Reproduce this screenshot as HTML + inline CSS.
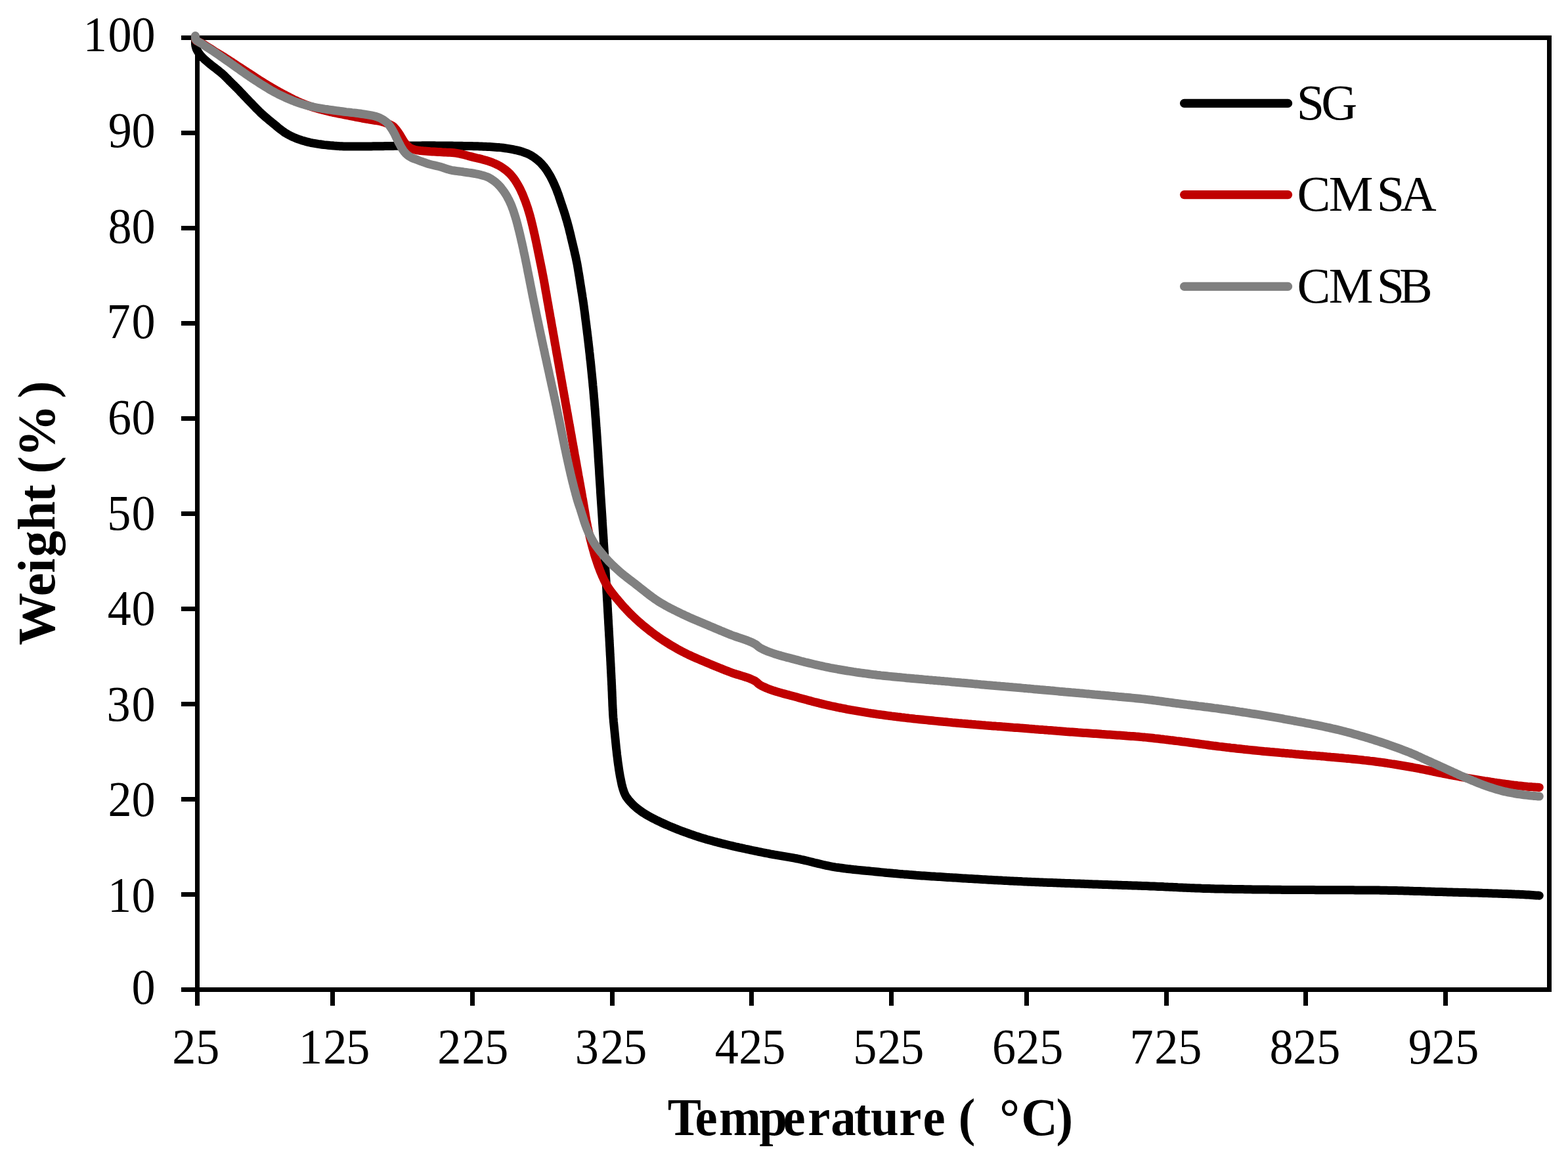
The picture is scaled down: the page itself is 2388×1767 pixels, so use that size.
<!DOCTYPE html>
<html lang="en"><head><meta charset="utf-8"><title>TGA curves</title>
<style>html,body{margin:0;padding:0;background:#fff}body{width:2388px;height:1767px;overflow:hidden}svg{display:block}text{font-family:"Liberation Serif","Times New Roman",serif;fill:#000;white-space:pre}</style></head><body>
<svg xmlns="http://www.w3.org/2000/svg" width="2388" height="1767" viewBox="0 0 2388 1767">
<rect width="2388" height="1767" fill="#fff"/>
<g fill="#000" shape-rendering="crispEdges">
<rect x="297" y="54" width="7" height="1478"/>
<rect x="2356" y="54" width="7" height="1457"/>
<rect x="276" y="54" width="2087" height="7"/>
<rect x="276" y="1504" width="2087" height="7"/>
<rect x="276" y="1359" width="21" height="7"/>
<rect x="276" y="1214" width="21" height="7"/>
<rect x="276" y="1069" width="21" height="7"/>
<rect x="276" y="924" width="21" height="7"/>
<rect x="276" y="779" width="21" height="7"/>
<rect x="276" y="634" width="21" height="7"/>
<rect x="276" y="489" width="21" height="7"/>
<rect x="276" y="344" width="21" height="7"/>
<rect x="276" y="199" width="21" height="7"/>
<rect x="503" y="1504" width="7" height="28"/>
<rect x="716" y="1504" width="7" height="28"/>
<rect x="929" y="1504" width="7" height="28"/>
<rect x="1141" y="1504" width="7" height="28"/>
<rect x="1354" y="1504" width="7" height="28"/>
<rect x="1560" y="1504" width="7" height="28"/>
<rect x="1773" y="1504" width="7" height="28"/>
<rect x="1985" y="1504" width="7" height="28"/>
<rect x="2198" y="1504" width="7" height="28"/>
</g>
<path d="M297.5 58.0 L297.5 61.1 L297.5 64.1 L297.5 66.9 L297.8 69.5 L298.4 72.0 L299.2 74.5 L300.4 76.9 L301.8 79.3 L303.4 81.6 L305.2 83.9 L307.2 86.2 L309.3 88.4 L311.6 90.6 L314.0 92.7 L316.6 94.9 L319.1 97.0 L321.8 99.1 L324.4 101.2 L327.1 103.2 L329.8 105.3 L332.4 107.4 L335.0 109.5 L337.5 111.6 L339.9 113.7 L342.2 115.8 L344.4 118.0 L346.5 120.1 L348.6 122.3 L350.7 124.4 L352.8 126.5 L355.0 128.6 L357.1 130.7 L359.2 132.8 L361.4 134.9 L363.5 137.1 L365.5 139.2 L367.6 141.4 L369.7 143.6 L371.7 145.8 L373.8 148.0 L375.9 150.1 L377.9 152.3 L380.0 154.5 L382.1 156.6 L384.2 158.8 L386.3 161.0 L388.4 163.1 L390.4 165.3 L392.6 167.4 L394.7 169.5 L396.8 171.6 L399.0 173.6 L401.3 175.6 L403.5 177.6 L405.8 179.6 L408.1 181.5 L410.4 183.4 L412.7 185.3 L415.0 187.2 L417.4 189.1 L419.7 191.0 L422.0 193.0 L424.3 194.9 L426.7 196.8 L429.1 198.6 L431.5 200.4 L433.9 202.1 L436.5 203.6 L439.1 205.1 L441.7 206.5 L444.4 207.8 L447.2 209.1 L450.0 210.3 L452.7 211.4 L455.5 212.4 L458.4 213.3 L461.3 214.3 L464.1 215.1 L467.0 215.9 L470.0 216.6 L472.9 217.3 L475.8 217.9 L478.8 218.4 L481.7 218.9 L484.7 219.4 L487.7 219.8 L490.6 220.2 L493.6 220.6 L496.6 220.9 L499.6 221.2 L502.6 221.5 L505.6 221.7 L508.6 222.0 L511.6 222.2 L514.5 222.4 L517.5 222.7 L520.5 222.8 L523.5 223.0 L526.5 223.0 L529.5 223.0 L532.5 223.0 L535.5 223.0 L538.5 223.0 L541.5 223.0 L544.5 223.0 L547.5 223.0 L550.5 223.0 L553.5 223.0 L556.5 223.0 L559.5 222.9 L562.5 222.9 L565.5 222.9 L568.5 222.8 L571.5 222.8 L574.5 222.8 L577.5 222.7 L580.5 222.7 L583.5 222.7 L586.5 222.6 L589.5 222.6 L592.5 222.5 L595.5 222.5 L598.5 222.4 L601.5 222.3 L604.5 222.3 L607.5 222.2 L610.5 222.2 L613.5 222.1 L616.5 222.1 L619.5 222.1 L622.5 222.0 L625.5 222.0 L628.5 222.0 L631.5 221.9 L634.5 221.9 L637.5 221.9 L640.5 221.9 L643.5 221.8 L646.5 221.8 L649.5 221.8 L652.5 221.8 L655.5 221.8 L658.5 221.8 L661.5 221.8 L664.5 221.9 L667.5 221.9 L670.5 221.9 L673.5 221.9 L676.5 222.0 L679.5 222.0 L682.5 222.1 L685.5 222.1 L688.5 222.1 L691.5 222.2 L694.5 222.2 L697.5 222.2 L700.5 222.3 L703.5 222.3 L706.5 222.4 L709.5 222.4 L712.5 222.5 L715.5 222.5 L718.5 222.6 L721.5 222.7 L724.5 222.7 L727.5 222.8 L730.5 222.9 L733.5 223.0 L736.5 223.2 L739.5 223.3 L742.5 223.5 L745.5 223.6 L748.5 223.8 L751.5 224.0 L754.5 224.2 L757.5 224.4 L760.5 224.6 L763.4 224.9 L766.4 225.3 L769.4 225.7 L772.4 226.1 L775.4 226.6 L778.3 227.1 L781.3 227.7 L784.2 228.3 L787.1 228.9 L790.0 229.6 L793.0 230.4 L795.9 231.3 L798.7 232.3 L801.5 233.3 L804.3 234.5 L806.9 235.8 L809.5 237.2 L812.1 238.9 L814.6 240.6 L817.0 242.5 L819.4 244.4 L821.6 246.4 L823.7 248.4 L825.7 250.6 L827.7 252.9 L829.6 255.2 L831.4 257.7 L833.1 260.2 L834.7 262.7 L836.3 265.3 L837.8 267.8 L839.2 270.5 L840.6 273.2 L841.9 275.9 L843.2 278.6 L844.4 281.4 L845.6 284.1 L846.8 286.9 L847.9 289.7 L848.9 292.5 L850.0 295.3 L851.0 298.1 L851.9 301.0 L852.9 303.8 L853.8 306.7 L854.8 309.5 L855.7 312.3 L856.7 315.2 L857.6 318.0 L858.6 320.9 L859.5 323.8 L860.4 326.6 L861.3 329.5 L862.1 332.4 L863.0 335.2 L863.8 338.1 L864.6 341.0 L865.4 343.9 L866.2 346.8 L866.9 349.7 L867.6 352.6 L868.3 355.5 L869.1 358.4 L869.7 361.4 L870.4 364.3 L871.1 367.2 L871.8 370.1 L872.5 373.0 L873.2 376.0 L873.9 378.9 L874.6 381.8 L875.2 384.7 L875.9 387.7 L876.6 390.6 L877.2 393.5 L877.8 396.5 L878.4 399.4 L879.0 402.3 L879.5 405.3 L880.0 408.2 L880.5 411.2 L881.0 414.2 L881.5 417.1 L882.0 420.1 L882.5 423.0 L882.9 426.0 L883.4 429.0 L883.8 431.9 L884.3 434.9 L884.8 437.9 L885.3 440.8 L885.7 443.8 L886.2 446.8 L886.7 449.7 L887.1 452.7 L887.6 455.7 L888.0 458.6 L888.5 461.6 L888.9 464.6 L889.3 467.5 L889.7 470.5 L890.1 473.5 L890.5 476.4 L890.9 479.4 L891.2 482.4 L891.6 485.4 L892.0 488.3 L892.4 491.3 L892.8 494.3 L893.1 497.3 L893.5 500.3 L893.9 503.2 L894.2 506.2 L894.6 509.2 L895.0 512.2 L895.3 515.1 L895.7 518.1 L896.0 521.1 L896.4 524.1 L896.7 527.1 L897.1 530.1 L897.4 533.0 L897.7 536.0 L898.1 539.0 L898.4 542.0 L898.7 545.0 L899.0 548.0 L899.4 550.9 L899.7 553.9 L900.0 556.9 L900.3 559.9 L900.6 562.9 L900.9 565.9 L901.2 568.8 L901.5 571.8 L901.8 574.8 L902.1 577.8 L902.4 580.8 L902.7 583.8 L902.9 586.8 L903.2 589.7 L903.5 592.7 L903.8 595.7 L904.0 598.7 L904.3 601.7 L904.5 604.7 L904.8 607.7 L905.1 610.7 L905.3 613.6 L905.5 616.6 L905.8 619.6 L906.0 622.6 L906.3 625.6 L906.5 628.6 L906.7 631.6 L906.9 634.6 L907.2 637.6 L907.4 640.6 L907.6 643.5 L907.8 646.5 L908.0 649.5 L908.2 652.5 L908.5 655.5 L908.7 658.5 L908.9 661.5 L909.1 664.5 L909.3 667.5 L909.5 670.5 L909.7 673.5 L909.9 676.5 L910.1 679.5 L910.3 682.5 L910.5 685.5 L910.7 688.4 L910.9 691.4 L911.0 694.4 L911.2 697.4 L911.4 700.4 L911.6 703.4 L911.8 706.4 L912.0 709.4 L912.2 712.4 L912.4 715.4 L912.6 718.4 L912.7 721.4 L912.9 724.4 L913.1 727.4 L913.3 730.4 L913.5 733.4 L913.7 736.4 L913.9 739.4 L914.1 742.4 L914.3 745.3 L914.4 748.3 L914.6 751.3 L914.8 754.3 L915.0 757.3 L915.2 760.3 L915.4 763.3 L915.6 766.3 L915.8 769.3 L916.0 772.3 L916.2 775.3 L916.4 778.3 L916.6 781.3 L916.8 784.3 L917.0 787.3 L917.2 790.3 L917.3 793.2 L917.5 796.2 L917.7 799.2 L917.9 802.2 L918.1 805.2 L918.3 808.2 L918.5 811.2 L918.7 814.2 L918.9 817.2 L919.1 820.2 L919.2 823.2 L919.4 826.2 L919.6 829.2 L919.8 832.2 L920.0 835.2 L920.2 838.2 L920.4 841.2 L920.5 844.1 L920.7 847.1 L920.9 850.1 L921.1 853.1 L921.3 856.1 L921.5 859.1 L921.6 862.1 L921.8 865.1 L922.0 868.1 L922.2 871.1 L922.4 874.1 L922.5 877.1 L922.7 880.1 L922.9 883.1 L923.1 886.1 L923.2 889.1 L923.4 892.1 L923.6 895.1 L923.8 898.1 L923.9 901.0 L924.1 904.0 L924.3 907.0 L924.4 910.0 L924.6 913.0 L924.8 916.0 L925.0 919.0 L925.1 922.0 L925.3 925.0 L925.5 928.0 L925.6 931.0 L925.8 934.0 L926.0 937.0 L926.1 940.0 L926.3 943.0 L926.5 946.0 L926.6 949.0 L926.8 952.0 L927.0 955.0 L927.1 958.0 L927.3 961.0 L927.5 963.9 L927.6 966.9 L927.8 969.9 L928.0 972.9 L928.1 975.9 L928.3 978.9 L928.4 981.9 L928.6 984.9 L928.8 987.9 L928.9 990.9 L929.1 993.9 L929.2 996.9 L929.4 999.9 L929.6 1002.9 L929.7 1005.9 L929.9 1008.9 L930.0 1011.9 L930.2 1014.9 L930.3 1017.9 L930.5 1020.9 L930.6 1023.9 L930.8 1026.9 L930.9 1029.9 L931.1 1032.9 L931.2 1035.9 L931.4 1038.8 L931.5 1041.8 L931.7 1044.8 L931.8 1047.8 L931.9 1050.8 L932.1 1053.8 L932.2 1056.8 L932.3 1059.8 L932.4 1062.8 L932.6 1065.8 L932.7 1068.8 L932.8 1071.8 L932.9 1074.8 L933.1 1077.8 L933.2 1080.8 L933.4 1083.8 L933.5 1086.8 L933.7 1089.8 L933.9 1092.8 L934.2 1095.8 L934.4 1098.8 L934.7 1101.7 L935.0 1104.7 L935.3 1107.7 L935.6 1110.7 L935.9 1113.7 L936.2 1116.7 L936.5 1119.7 L936.8 1122.6 L937.1 1125.6 L937.4 1128.6 L937.7 1131.6 L938.0 1134.6 L938.3 1137.6 L938.6 1140.6 L939.0 1143.5 L939.3 1146.5 L939.6 1149.5 L940.0 1152.5 L940.4 1155.5 L940.7 1158.4 L941.1 1161.4 L941.5 1164.4 L942.0 1167.4 L942.4 1170.3 L942.8 1173.3 L943.3 1176.3 L943.8 1179.2 L944.3 1182.2 L944.9 1185.1 L945.5 1188.1 L946.1 1191.0 L946.7 1193.9 L947.4 1196.9 L948.2 1199.8 L949.1 1202.8 L950.0 1205.6 L951.1 1208.4 L952.3 1211.0 L953.7 1213.6 L955.5 1216.0 L957.3 1218.5 L959.3 1220.8 L961.4 1223.0 L963.4 1225.2 L965.6 1227.2 L967.8 1229.2 L970.1 1231.2 L972.5 1233.0 L975.0 1234.9 L977.4 1236.6 L979.9 1238.3 L982.4 1239.9 L984.9 1241.4 L987.5 1242.9 L990.2 1244.4 L992.8 1245.8 L995.5 1247.2 L998.2 1248.5 L1000.9 1249.9 L1003.6 1251.2 L1006.3 1252.5 L1009.0 1253.7 L1011.8 1255.0 L1014.5 1256.2 L1017.3 1257.4 L1020.0 1258.6 L1022.8 1259.8 L1025.6 1260.9 L1028.3 1262.0 L1031.1 1263.1 L1033.9 1264.2 L1036.7 1265.3 L1039.5 1266.3 L1042.3 1267.4 L1045.2 1268.4 L1048.0 1269.4 L1050.8 1270.5 L1053.7 1271.4 L1056.5 1272.4 L1059.3 1273.4 L1062.2 1274.3 L1065.1 1275.2 L1067.9 1276.1 L1070.8 1277.0 L1073.6 1277.8 L1076.5 1278.7 L1079.4 1279.5 L1082.3 1280.3 L1085.2 1281.1 L1088.1 1281.9 L1091.0 1282.6 L1093.9 1283.4 L1096.8 1284.1 L1099.7 1284.9 L1102.6 1285.6 L1105.5 1286.3 L1108.5 1287.0 L1111.4 1287.7 L1114.3 1288.4 L1117.2 1289.1 L1120.1 1289.8 L1123.1 1290.4 L1126.0 1291.1 L1128.9 1291.7 L1131.9 1292.3 L1134.8 1293.0 L1137.7 1293.6 L1140.7 1294.2 L1143.6 1294.9 L1146.5 1295.5 L1149.5 1296.1 L1152.4 1296.7 L1155.3 1297.3 L1158.3 1297.9 L1161.2 1298.5 L1164.2 1299.1 L1167.1 1299.7 L1170.1 1300.2 L1173.0 1300.8 L1176.0 1301.3 L1178.9 1301.9 L1181.9 1302.4 L1184.8 1302.9 L1187.8 1303.4 L1190.7 1303.9 L1193.7 1304.4 L1196.7 1304.9 L1199.6 1305.4 L1202.6 1305.9 L1205.5 1306.4 L1208.5 1306.9 L1211.4 1307.5 L1214.4 1308.0 L1217.3 1308.6 L1220.2 1309.3 L1223.2 1309.9 L1226.1 1310.6 L1229.0 1311.3 L1232.0 1312.0 L1234.9 1312.7 L1237.8 1313.4 L1240.7 1314.2 L1243.6 1314.9 L1246.6 1315.6 L1249.5 1316.3 L1252.4 1317.0 L1255.3 1317.7 L1258.2 1318.3 L1261.2 1318.9 L1264.1 1319.5 L1267.1 1320.1 L1270.0 1320.6 L1272.9 1321.1 L1275.9 1321.5 L1278.9 1321.9 L1281.8 1322.3 L1284.8 1322.7 L1287.8 1323.1 L1290.8 1323.5 L1293.7 1323.8 L1296.7 1324.1 L1299.7 1324.5 L1302.7 1324.8 L1305.7 1325.1 L1308.7 1325.4 L1311.7 1325.7 L1314.6 1326.0 L1317.6 1326.3 L1320.6 1326.6 L1323.6 1326.8 L1326.6 1327.1 L1329.6 1327.4 L1332.6 1327.7 L1335.6 1328.0 L1338.5 1328.3 L1341.5 1328.6 L1344.5 1328.9 L1347.5 1329.2 L1350.5 1329.5 L1353.5 1329.7 L1356.5 1330.0 L1359.5 1330.3 L1362.4 1330.6 L1365.4 1330.8 L1368.4 1331.1 L1371.4 1331.4 L1374.4 1331.6 L1377.4 1331.9 L1380.4 1332.1 L1383.4 1332.3 L1386.4 1332.6 L1389.3 1332.8 L1392.3 1333.0 L1395.3 1333.3 L1398.3 1333.5 L1401.3 1333.7 L1404.3 1333.9 L1407.3 1334.1 L1410.3 1334.3 L1413.3 1334.5 L1416.3 1334.7 L1419.3 1334.9 L1422.3 1335.1 L1425.3 1335.3 L1428.3 1335.4 L1431.3 1335.6 L1434.2 1335.8 L1437.2 1336.0 L1440.2 1336.2 L1443.2 1336.4 L1446.2 1336.6 L1449.2 1336.7 L1452.2 1336.9 L1455.2 1337.1 L1458.2 1337.3 L1461.2 1337.5 L1464.2 1337.7 L1467.2 1337.9 L1470.2 1338.0 L1473.2 1338.2 L1476.2 1338.4 L1479.2 1338.6 L1482.2 1338.8 L1485.2 1339.0 L1488.1 1339.1 L1491.1 1339.3 L1494.1 1339.5 L1497.1 1339.7 L1500.1 1339.8 L1503.1 1340.0 L1506.1 1340.2 L1509.1 1340.3 L1512.1 1340.5 L1515.1 1340.7 L1518.1 1340.8 L1521.1 1341.0 L1524.1 1341.1 L1527.1 1341.3 L1530.1 1341.4 L1533.1 1341.6 L1536.1 1341.7 L1539.1 1341.9 L1542.1 1342.0 L1545.1 1342.2 L1548.1 1342.3 L1551.1 1342.5 L1554.1 1342.6 L1557.1 1342.8 L1560.0 1342.9 L1563.0 1343.0 L1566.0 1343.2 L1569.0 1343.3 L1572.0 1343.4 L1575.0 1343.5 L1578.0 1343.7 L1581.0 1343.8 L1584.0 1343.9 L1587.0 1344.0 L1590.0 1344.2 L1593.0 1344.3 L1596.0 1344.4 L1599.0 1344.5 L1602.0 1344.6 L1605.0 1344.7 L1608.0 1344.8 L1611.0 1345.0 L1614.0 1345.1 L1617.0 1345.2 L1620.0 1345.3 L1623.0 1345.4 L1626.0 1345.5 L1629.0 1345.6 L1632.0 1345.7 L1635.0 1345.8 L1638.0 1345.9 L1641.0 1346.0 L1644.0 1346.1 L1647.0 1346.2 L1650.0 1346.3 L1653.0 1346.5 L1656.0 1346.6 L1659.0 1346.7 L1662.0 1346.8 L1665.0 1346.9 L1668.0 1347.0 L1671.0 1347.1 L1674.0 1347.2 L1677.0 1347.3 L1680.0 1347.4 L1683.0 1347.5 L1686.0 1347.6 L1689.0 1347.7 L1692.0 1347.8 L1695.0 1347.9 L1698.0 1348.0 L1701.0 1348.1 L1704.0 1348.2 L1706.9 1348.3 L1709.9 1348.4 L1712.9 1348.5 L1715.9 1348.6 L1718.9 1348.7 L1721.9 1348.8 L1724.9 1348.9 L1727.9 1349.0 L1730.9 1349.1 L1733.9 1349.2 L1736.9 1349.3 L1739.9 1349.4 L1742.9 1349.5 L1745.9 1349.6 L1748.9 1349.7 L1751.9 1349.9 L1754.9 1350.0 L1757.9 1350.1 L1760.9 1350.2 L1763.9 1350.4 L1766.9 1350.5 L1769.9 1350.6 L1772.9 1350.8 L1775.9 1350.9 L1778.9 1351.1 L1781.9 1351.2 L1784.9 1351.3 L1787.9 1351.5 L1790.9 1351.6 L1793.9 1351.8 L1796.9 1351.9 L1799.9 1352.0 L1802.9 1352.2 L1805.9 1352.3 L1808.9 1352.4 L1811.9 1352.6 L1814.9 1352.7 L1817.9 1352.8 L1820.9 1352.9 L1823.9 1353.0 L1826.9 1353.1 L1829.9 1353.3 L1832.9 1353.4 L1835.9 1353.5 L1838.8 1353.6 L1841.8 1353.6 L1844.8 1353.7 L1847.8 1353.8 L1850.8 1353.9 L1853.8 1354.0 L1856.8 1354.0 L1859.8 1354.1 L1862.8 1354.1 L1865.8 1354.2 L1868.8 1354.2 L1871.8 1354.3 L1874.8 1354.3 L1877.8 1354.4 L1880.8 1354.4 L1883.8 1354.5 L1886.8 1354.5 L1889.8 1354.6 L1892.8 1354.6 L1895.8 1354.7 L1898.8 1354.7 L1901.8 1354.8 L1904.8 1354.8 L1907.8 1354.9 L1910.8 1354.9 L1913.8 1354.9 L1916.8 1355.0 L1919.8 1355.0 L1922.8 1355.0 L1925.8 1355.1 L1928.8 1355.1 L1931.8 1355.1 L1934.8 1355.2 L1937.8 1355.2 L1940.8 1355.2 L1943.8 1355.3 L1946.8 1355.3 L1949.8 1355.3 L1952.8 1355.4 L1955.8 1355.4 L1958.8 1355.4 L1961.8 1355.4 L1964.8 1355.4 L1967.8 1355.5 L1970.8 1355.5 L1973.8 1355.5 L1976.8 1355.5 L1979.8 1355.5 L1982.8 1355.6 L1985.8 1355.6 L1988.8 1355.6 L1991.8 1355.6 L1994.8 1355.6 L1997.8 1355.6 L2000.8 1355.6 L2003.8 1355.7 L2006.8 1355.7 L2009.8 1355.7 L2012.8 1355.7 L2015.8 1355.7 L2018.8 1355.7 L2021.8 1355.7 L2024.8 1355.7 L2027.8 1355.7 L2030.8 1355.7 L2033.8 1355.7 L2036.8 1355.8 L2039.8 1355.8 L2042.8 1355.8 L2045.8 1355.8 L2048.8 1355.8 L2051.8 1355.8 L2054.8 1355.8 L2057.8 1355.8 L2060.8 1355.8 L2063.8 1355.9 L2066.8 1355.9 L2069.8 1355.9 L2072.8 1355.9 L2075.8 1355.9 L2078.8 1355.9 L2081.8 1356.0 L2084.8 1356.0 L2087.8 1356.0 L2090.8 1356.0 L2093.8 1356.0 L2096.8 1356.1 L2099.8 1356.1 L2102.8 1356.2 L2105.8 1356.2 L2108.8 1356.3 L2111.8 1356.3 L2114.8 1356.4 L2117.8 1356.4 L2120.8 1356.5 L2123.8 1356.6 L2126.8 1356.6 L2129.8 1356.7 L2132.8 1356.8 L2135.8 1356.8 L2138.8 1356.9 L2141.8 1357.0 L2144.8 1357.1 L2147.8 1357.2 L2150.8 1357.3 L2153.8 1357.4 L2156.8 1357.4 L2159.8 1357.5 L2162.8 1357.6 L2165.8 1357.7 L2168.8 1357.8 L2171.8 1357.9 L2174.8 1358.0 L2177.8 1358.1 L2180.8 1358.2 L2183.8 1358.3 L2186.8 1358.4 L2189.8 1358.5 L2192.8 1358.5 L2195.8 1358.6 L2198.8 1358.7 L2201.8 1358.8 L2204.8 1358.9 L2207.8 1359.0 L2210.8 1359.1 L2213.8 1359.2 L2216.8 1359.2 L2219.8 1359.3 L2222.8 1359.4 L2225.8 1359.5 L2228.8 1359.6 L2231.8 1359.6 L2234.8 1359.7 L2237.8 1359.8 L2240.8 1359.9 L2243.8 1360.0 L2246.8 1360.1 L2249.8 1360.1 L2252.8 1360.2 L2255.8 1360.3 L2258.8 1360.4 L2261.8 1360.5 L2264.8 1360.6 L2267.8 1360.7 L2270.8 1360.8 L2273.8 1360.9 L2276.8 1361.0 L2279.8 1361.1 L2282.8 1361.2 L2285.8 1361.3 L2288.8 1361.4 L2291.8 1361.5 L2294.8 1361.6 L2297.8 1361.7 L2300.8 1361.8 L2303.8 1361.9 L2306.7 1362.1 L2309.7 1362.2 L2312.7 1362.3 L2315.7 1362.5 L2318.7 1362.6 L2321.7 1362.7 L2324.7 1362.9 L2327.7 1363.1 L2330.7 1363.3 L2333.7 1363.5 L2336.7 1363.7 L2339.7 1363.9 L2342.7 1364.1 L2344.3 1364.2" fill="none" stroke="#000000" stroke-width="13" stroke-linecap="round" stroke-linejoin="round"/>
<path d="M297.5 55.5 L297.5 58.7 L297.8 61.0 L299.8 62.6 L303.0 64.0 L306.3 65.4 L309.1 66.9 L311.7 68.5 L314.2 70.1 L316.7 71.7 L319.2 73.3 L321.8 74.9 L324.3 76.5 L326.8 78.1 L329.4 79.7 L332.0 81.3 L334.5 82.8 L337.1 84.4 L339.6 86.0 L342.2 87.5 L344.7 89.1 L347.3 90.8 L349.8 92.4 L352.3 94.0 L354.8 95.7 L357.3 97.3 L359.8 99.0 L362.3 100.6 L364.8 102.2 L367.3 103.9 L369.9 105.5 L372.4 107.1 L374.9 108.8 L377.4 110.4 L379.9 112.0 L382.5 113.7 L385.0 115.3 L387.5 117.0 L390.0 118.6 L392.5 120.3 L395.0 121.9 L397.5 123.5 L400.1 125.1 L402.6 126.7 L405.2 128.3 L407.7 129.8 L410.3 131.3 L412.9 132.9 L415.5 134.4 L418.1 135.9 L420.7 137.4 L423.3 138.8 L425.9 140.3 L428.6 141.7 L431.2 143.1 L433.9 144.5 L436.5 145.9 L439.2 147.3 L441.8 148.7 L444.5 150.1 L447.2 151.5 L449.9 152.8 L452.6 154.0 L455.3 155.3 L458.1 156.5 L460.9 157.6 L463.6 158.7 L466.4 159.8 L469.3 160.9 L472.1 161.9 L474.9 162.8 L477.8 163.7 L480.7 164.6 L483.6 165.4 L486.4 166.2 L489.3 167.0 L492.2 167.8 L495.1 168.5 L498.1 169.2 L501.0 169.9 L503.9 170.6 L506.8 171.3 L509.8 171.9 L512.7 172.5 L515.6 173.1 L518.6 173.7 L521.5 174.2 L524.5 174.8 L527.4 175.4 L530.4 176.0 L533.3 176.6 L536.2 177.1 L539.2 177.7 L542.1 178.3 L545.1 178.9 L548.0 179.4 L551.0 180.0 L553.9 180.5 L556.9 181.0 L559.8 181.5 L562.8 182.1 L565.8 182.6 L568.7 183.0 L571.7 183.5 L574.7 183.9 L577.6 184.5 L580.5 185.1 L583.4 185.9 L586.3 186.8 L589.1 187.8 L591.9 188.9 L594.7 190.2 L597.4 191.6 L599.7 193.3 L601.7 195.4 L603.7 197.7 L605.5 200.2 L607.2 202.7 L608.9 205.2 L610.5 207.8 L612.0 210.5 L613.5 213.1 L615.1 215.6 L616.8 218.0 L618.8 220.2 L621.0 222.5 L623.3 224.5 L625.8 226.0 L628.4 227.1 L631.4 228.0 L634.3 228.7 L637.3 229.1 L640.3 229.5 L643.2 229.8 L646.2 230.1 L649.2 230.3 L652.2 230.5 L655.2 230.8 L658.2 231.0 L661.2 231.1 L664.2 231.3 L667.2 231.5 L670.2 231.6 L673.2 231.8 L676.2 231.9 L679.2 232.1 L682.2 232.2 L685.2 232.3 L688.2 232.5 L691.2 232.7 L694.1 233.1 L697.1 233.6 L700.0 234.2 L702.9 234.8 L705.9 235.5 L708.8 236.3 L711.7 237.1 L714.6 237.9 L717.5 238.6 L720.5 239.4 L723.4 240.1 L726.3 240.8 L729.2 241.4 L732.2 242.1 L735.1 242.9 L738.0 243.7 L740.8 244.5 L743.7 245.4 L746.5 246.4 L749.4 247.4 L752.2 248.6 L755.0 249.8 L757.6 251.0 L760.2 252.4 L762.8 253.9 L765.4 255.6 L767.9 257.3 L770.3 259.2 L772.7 261.1 L774.9 263.1 L777.0 265.2 L778.9 267.3 L780.8 269.6 L782.6 272.0 L784.4 274.5 L786.0 277.1 L787.6 279.7 L789.1 282.3 L790.6 284.9 L792.0 287.6 L793.3 290.3 L794.5 293.0 L795.8 295.8 L796.9 298.5 L798.0 301.3 L799.1 304.1 L800.2 306.9 L801.2 309.7 L802.2 312.6 L803.2 315.4 L804.1 318.3 L805.0 321.2 L805.8 324.0 L806.7 326.9 L807.5 329.8 L808.2 332.7 L809.0 335.6 L809.7 338.5 L810.4 341.4 L811.1 344.3 L811.8 347.3 L812.5 350.2 L813.1 353.1 L813.8 356.0 L814.5 359.0 L815.1 361.9 L815.7 364.8 L816.4 367.8 L817.0 370.7 L817.6 373.6 L818.2 376.6 L818.8 379.5 L819.4 382.5 L820.0 385.4 L820.6 388.3 L821.2 391.3 L821.8 394.2 L822.4 397.2 L823.0 400.1 L823.6 403.0 L824.2 406.0 L824.8 408.9 L825.4 411.9 L825.9 414.8 L826.5 417.8 L827.1 420.7 L827.6 423.6 L828.2 426.6 L828.7 429.5 L829.3 432.5 L829.8 435.4 L830.3 438.4 L830.8 441.4 L831.3 444.3 L831.9 447.3 L832.4 450.2 L832.9 453.2 L833.4 456.1 L833.9 459.1 L834.5 462.0 L835.0 465.0 L835.5 467.9 L836.0 470.9 L836.6 473.9 L837.1 476.8 L837.6 479.8 L838.1 482.7 L838.7 485.7 L839.2 488.6 L839.7 491.6 L840.2 494.5 L840.7 497.5 L841.3 500.4 L841.8 503.4 L842.3 506.3 L842.8 509.3 L843.4 512.3 L843.9 515.2 L844.4 518.2 L844.9 521.1 L845.4 524.1 L846.0 527.0 L846.5 530.0 L847.0 532.9 L847.5 535.9 L848.0 538.8 L848.6 541.8 L849.1 544.8 L849.6 547.7 L850.1 550.7 L850.7 553.6 L851.2 556.6 L851.7 559.5 L852.2 562.5 L852.7 565.4 L853.3 568.4 L853.8 571.3 L854.3 574.3 L854.8 577.3 L855.4 580.2 L855.9 583.2 L856.4 586.1 L856.9 589.1 L857.4 592.0 L858.0 595.0 L858.5 597.9 L859.0 600.9 L859.5 603.8 L860.1 606.8 L860.6 609.7 L861.1 612.7 L861.6 615.7 L862.2 618.6 L862.7 621.6 L863.2 624.5 L863.7 627.5 L864.3 630.4 L864.8 633.4 L865.3 636.3 L865.8 639.3 L866.4 642.2 L866.9 645.2 L867.4 648.1 L868.0 651.1 L868.5 654.0 L869.0 657.0 L869.5 660.0 L870.1 662.9 L870.6 665.9 L871.1 668.8 L871.6 671.8 L872.2 674.7 L872.7 677.7 L873.2 680.6 L873.8 683.6 L874.3 686.5 L874.8 689.5 L875.3 692.4 L875.9 695.4 L876.4 698.3 L876.9 701.3 L877.5 704.3 L878.0 707.2 L878.5 710.2 L879.0 713.1 L879.6 716.1 L880.1 719.0 L880.6 722.0 L881.1 724.9 L881.7 727.9 L882.2 730.8 L882.7 733.8 L883.3 736.7 L883.8 739.7 L884.3 742.6 L884.8 745.6 L885.4 748.6 L885.9 751.5 L886.4 754.5 L886.9 757.4 L887.5 760.4 L888.0 763.3 L888.5 766.3 L889.0 769.2 L889.5 772.2 L890.0 775.2 L890.5 778.1 L891.0 781.1 L891.5 784.0 L892.0 787.0 L892.5 790.0 L893.0 792.9 L893.6 795.9 L894.2 798.8 L894.7 801.7 L895.3 804.7 L896.0 807.6 L896.6 810.5 L897.3 813.5 L897.9 816.4 L898.6 819.3 L899.3 822.2 L900.1 825.1 L900.8 828.1 L901.6 831.0 L902.4 833.9 L903.2 836.7 L904.0 839.6 L904.8 842.5 L905.6 845.4 L906.5 848.3 L907.4 851.1 L908.4 854.0 L909.3 856.8 L910.3 859.7 L911.3 862.5 L912.4 865.3 L913.4 868.1 L914.5 870.9 L915.7 873.7 L916.8 876.4 L918.1 879.2 L919.3 882.0 L920.6 884.7 L922.0 887.3 L923.4 890.0 L924.8 892.5 L926.4 895.1 L928.1 897.5 L929.8 900.0 L931.6 902.4 L933.5 904.8 L935.4 907.1 L937.3 909.5 L939.2 911.8 L941.2 914.1 L943.1 916.4 L945.0 918.6 L947.0 920.9 L949.0 923.2 L951.0 925.4 L953.1 927.6 L955.1 929.8 L957.2 932.0 L959.3 934.2 L961.4 936.3 L963.6 938.4 L965.7 940.4 L967.9 942.5 L970.1 944.5 L972.3 946.5 L974.6 948.5 L976.8 950.4 L979.1 952.4 L981.4 954.3 L983.8 956.2 L986.1 958.1 L988.5 960.0 L990.9 961.8 L993.3 963.6 L995.7 965.4 L998.1 967.2 L1000.5 968.9 L1003.0 970.7 L1005.4 972.4 L1007.9 974.0 L1010.4 975.7 L1012.9 977.3 L1015.5 978.9 L1018.0 980.5 L1020.6 982.1 L1023.2 983.7 L1025.8 985.2 L1028.4 986.7 L1031.0 988.2 L1033.6 989.6 L1036.2 991.1 L1038.9 992.5 L1041.5 993.8 L1044.2 995.2 L1046.9 996.5 L1049.6 997.8 L1052.3 999.0 L1055.1 1000.3 L1057.8 1001.5 L1060.6 1002.7 L1063.3 1003.9 L1066.1 1005.1 L1068.9 1006.2 L1071.6 1007.4 L1074.4 1008.6 L1077.2 1009.7 L1079.9 1010.9 L1082.7 1012.1 L1085.5 1013.2 L1088.2 1014.4 L1091.0 1015.5 L1093.8 1016.6 L1096.6 1017.8 L1099.4 1018.9 L1102.1 1020.0 L1104.9 1021.1 L1107.7 1022.1 L1110.5 1023.2 L1113.3 1024.3 L1116.2 1025.3 L1119.0 1026.3 L1121.9 1027.2 L1124.9 1028.1 L1127.8 1029.0 L1130.7 1029.9 L1133.6 1030.8 L1136.5 1031.7 L1139.3 1032.7 L1142.1 1033.7 L1144.8 1034.9 L1147.5 1036.1 L1150.1 1037.4 L1152.5 1039.2 L1154.7 1041.3 L1157.1 1043.2 L1159.6 1044.6 L1162.2 1045.8 L1164.8 1047.0 L1167.5 1048.2 L1170.2 1049.3 L1173.0 1050.3 L1175.8 1051.3 L1178.7 1052.3 L1181.6 1053.2 L1184.5 1054.1 L1187.4 1054.9 L1190.3 1055.8 L1193.3 1056.6 L1196.3 1057.4 L1199.2 1058.2 L1202.2 1058.9 L1205.1 1059.7 L1208.1 1060.5 L1211.0 1061.3 L1213.9 1062.1 L1216.8 1062.9 L1219.7 1063.7 L1222.6 1064.5 L1225.5 1065.3 L1228.4 1066.1 L1231.3 1066.9 L1234.2 1067.6 L1237.1 1068.4 L1240.0 1069.2 L1242.9 1069.9 L1245.8 1070.6 L1248.7 1071.4 L1251.6 1072.1 L1254.6 1072.8 L1257.5 1073.5 L1260.4 1074.2 L1263.3 1074.8 L1266.3 1075.5 L1269.2 1076.1 L1272.1 1076.7 L1275.0 1077.4 L1278.0 1078.0 L1280.9 1078.5 L1283.9 1079.1 L1286.8 1079.7 L1289.8 1080.3 L1292.7 1080.8 L1295.7 1081.4 L1298.6 1081.9 L1301.6 1082.4 L1304.5 1082.9 L1307.5 1083.4 L1310.4 1083.9 L1313.4 1084.4 L1316.4 1084.9 L1319.3 1085.4 L1322.3 1085.9 L1325.3 1086.3 L1328.2 1086.8 L1331.2 1087.2 L1334.2 1087.7 L1337.1 1088.1 L1340.1 1088.5 L1343.1 1088.9 L1346.0 1089.3 L1349.0 1089.7 L1352.0 1090.1 L1355.0 1090.5 L1357.9 1090.9 L1360.9 1091.2 L1363.9 1091.6 L1366.9 1092.0 L1369.9 1092.3 L1372.8 1092.7 L1375.8 1093.0 L1378.8 1093.4 L1381.8 1093.7 L1384.8 1094.1 L1387.7 1094.4 L1390.7 1094.7 L1393.7 1095.1 L1396.7 1095.4 L1399.7 1095.7 L1402.6 1096.0 L1405.6 1096.3 L1408.6 1096.6 L1411.6 1096.9 L1414.6 1097.2 L1417.6 1097.5 L1420.6 1097.8 L1423.5 1098.1 L1426.5 1098.4 L1429.5 1098.7 L1432.5 1099.0 L1435.5 1099.3 L1438.5 1099.6 L1441.5 1099.8 L1444.4 1100.1 L1447.4 1100.4 L1450.4 1100.7 L1453.4 1100.9 L1456.4 1101.2 L1459.4 1101.5 L1462.4 1101.7 L1465.4 1102.0 L1468.4 1102.2 L1471.3 1102.5 L1474.3 1102.8 L1477.3 1103.0 L1480.3 1103.3 L1483.3 1103.5 L1486.3 1103.8 L1489.3 1104.0 L1492.3 1104.2 L1495.3 1104.5 L1498.3 1104.7 L1501.2 1105.0 L1504.2 1105.2 L1507.2 1105.4 L1510.2 1105.7 L1513.2 1105.9 L1516.2 1106.1 L1519.2 1106.4 L1522.2 1106.6 L1525.2 1106.8 L1528.2 1107.1 L1531.2 1107.3 L1534.1 1107.5 L1537.1 1107.7 L1540.1 1107.9 L1543.1 1108.2 L1546.1 1108.4 L1549.1 1108.6 L1552.1 1108.8 L1555.1 1109.1 L1558.1 1109.3 L1561.1 1109.5 L1564.1 1109.7 L1567.1 1110.0 L1570.0 1110.2 L1573.0 1110.4 L1576.0 1110.7 L1579.0 1110.9 L1582.0 1111.2 L1585.0 1111.4 L1588.0 1111.6 L1591.0 1111.9 L1594.0 1112.1 L1597.0 1112.4 L1599.9 1112.6 L1602.9 1112.8 L1605.9 1113.1 L1608.9 1113.3 L1611.9 1113.6 L1614.9 1113.8 L1617.9 1114.0 L1620.9 1114.2 L1623.9 1114.5 L1626.9 1114.7 L1629.9 1114.9 L1632.9 1115.1 L1635.8 1115.3 L1638.8 1115.5 L1641.8 1115.8 L1644.8 1116.0 L1647.8 1116.2 L1650.8 1116.4 L1653.8 1116.6 L1656.8 1116.8 L1659.8 1117.0 L1662.8 1117.2 L1665.8 1117.4 L1668.8 1117.6 L1671.8 1117.8 L1674.7 1118.0 L1677.7 1118.3 L1680.7 1118.5 L1683.7 1118.7 L1686.7 1118.9 L1689.7 1119.1 L1692.7 1119.3 L1695.7 1119.5 L1698.7 1119.7 L1701.7 1119.9 L1704.7 1120.1 L1707.7 1120.3 L1710.7 1120.5 L1713.7 1120.7 L1716.7 1121.0 L1719.6 1121.2 L1722.6 1121.4 L1725.6 1121.6 L1728.6 1121.8 L1731.6 1122.1 L1734.6 1122.3 L1737.6 1122.6 L1740.6 1122.9 L1743.6 1123.1 L1746.5 1123.4 L1749.5 1123.7 L1752.5 1124.0 L1755.5 1124.3 L1758.5 1124.7 L1761.5 1125.0 L1764.4 1125.3 L1767.4 1125.7 L1770.4 1126.0 L1773.4 1126.4 L1776.4 1126.7 L1779.3 1127.1 L1782.3 1127.5 L1785.3 1127.8 L1788.3 1128.2 L1791.3 1128.6 L1794.2 1128.9 L1797.2 1129.3 L1800.2 1129.7 L1803.2 1130.0 L1806.1 1130.4 L1809.1 1130.8 L1812.1 1131.2 L1815.1 1131.6 L1818.0 1132.0 L1821.0 1132.4 L1824.0 1132.8 L1827.0 1133.2 L1829.9 1133.6 L1832.9 1134.0 L1835.9 1134.4 L1838.8 1134.8 L1841.8 1135.2 L1844.8 1135.6 L1847.8 1136.0 L1850.7 1136.3 L1853.7 1136.7 L1856.7 1137.1 L1859.7 1137.4 L1862.7 1137.8 L1865.6 1138.1 L1868.6 1138.5 L1871.6 1138.8 L1874.6 1139.2 L1877.6 1139.5 L1880.5 1139.8 L1883.5 1140.2 L1886.5 1140.5 L1889.5 1140.8 L1892.5 1141.1 L1895.5 1141.5 L1898.4 1141.8 L1901.4 1142.1 L1904.4 1142.4 L1907.4 1142.7 L1910.4 1143.0 L1913.4 1143.3 L1916.3 1143.6 L1919.3 1143.9 L1922.3 1144.2 L1925.3 1144.5 L1928.3 1144.7 L1931.3 1145.0 L1934.3 1145.3 L1937.3 1145.5 L1940.2 1145.8 L1943.2 1146.1 L1946.2 1146.3 L1949.2 1146.6 L1952.2 1146.9 L1955.2 1147.1 L1958.2 1147.4 L1961.2 1147.6 L1964.2 1147.9 L1967.1 1148.1 L1970.1 1148.4 L1973.1 1148.7 L1976.1 1148.9 L1979.1 1149.2 L1982.1 1149.4 L1985.1 1149.7 L1988.1 1149.9 L1991.1 1150.2 L1994.0 1150.4 L1997.0 1150.7 L2000.0 1150.9 L2003.0 1151.1 L2006.0 1151.4 L2009.0 1151.6 L2012.0 1151.9 L2015.0 1152.1 L2018.0 1152.4 L2021.0 1152.7 L2023.9 1152.9 L2026.9 1153.2 L2029.9 1153.4 L2032.9 1153.7 L2035.9 1154.0 L2038.9 1154.3 L2041.9 1154.5 L2044.9 1154.8 L2047.8 1155.1 L2050.8 1155.4 L2053.8 1155.6 L2056.8 1155.9 L2059.8 1156.2 L2062.8 1156.5 L2065.8 1156.8 L2068.8 1157.1 L2071.7 1157.4 L2074.7 1157.7 L2077.7 1158.1 L2080.7 1158.4 L2083.7 1158.7 L2086.6 1159.1 L2089.6 1159.4 L2092.6 1159.8 L2095.6 1160.2 L2098.5 1160.6 L2101.5 1161.0 L2104.5 1161.4 L2107.5 1161.8 L2110.4 1162.2 L2113.4 1162.7 L2116.4 1163.1 L2119.3 1163.6 L2122.3 1164.0 L2125.3 1164.5 L2128.2 1165.0 L2131.2 1165.5 L2134.1 1166.0 L2137.1 1166.5 L2140.1 1167.0 L2143.0 1167.5 L2146.0 1168.0 L2148.9 1168.5 L2151.9 1169.0 L2154.8 1169.6 L2157.8 1170.1 L2160.7 1170.7 L2163.7 1171.3 L2166.6 1171.9 L2169.5 1172.5 L2172.5 1173.1 L2175.4 1173.7 L2178.4 1174.3 L2181.3 1175.0 L2184.2 1175.6 L2187.2 1176.2 L2190.1 1176.8 L2193.0 1177.4 L2196.0 1178.0 L2198.9 1178.6 L2201.9 1179.1 L2204.8 1179.7 L2207.8 1180.3 L2210.7 1180.8 L2213.7 1181.3 L2216.6 1181.9 L2219.6 1182.4 L2222.5 1183.0 L2225.5 1183.5 L2228.4 1184.0 L2231.4 1184.6 L2234.3 1185.1 L2237.3 1185.6 L2240.2 1186.1 L2243.2 1186.6 L2246.2 1187.1 L2249.1 1187.6 L2252.1 1188.1 L2255.0 1188.6 L2258.0 1189.1 L2261.0 1189.6 L2263.9 1190.0 L2266.9 1190.5 L2269.8 1191.0 L2272.8 1191.4 L2275.8 1191.9 L2278.7 1192.3 L2281.7 1192.8 L2284.7 1193.2 L2287.7 1193.6 L2290.6 1194.0 L2293.6 1194.4 L2296.6 1194.8 L2299.5 1195.2 L2302.5 1195.6 L2305.5 1196.0 L2308.5 1196.3 L2311.5 1196.7 L2314.4 1197.0 L2317.4 1197.3 L2320.4 1197.6 L2323.4 1197.9 L2326.4 1198.2 L2329.4 1198.4 L2332.4 1198.6 L2335.4 1198.9 L2338.3 1199.1 L2341.3 1199.2 L2344.3 1199.4" fill="none" stroke="#c00000" stroke-width="13" stroke-linecap="round" stroke-linejoin="round"/>
<path d="M297.5 54.5 L297.5 57.6 L297.9 60.0 L299.8 62.1 L302.6 63.9 L305.6 65.6 L308.4 67.3 L310.8 69.0 L313.3 70.7 L315.8 72.3 L318.4 73.9 L320.9 75.5 L323.5 77.1 L326.0 78.8 L328.5 80.5 L330.9 82.2 L333.4 83.9 L335.8 85.6 L338.3 87.3 L340.7 89.1 L343.2 90.8 L345.7 92.5 L348.1 94.2 L350.6 96.0 L353.0 97.7 L355.4 99.4 L357.9 101.2 L360.3 102.9 L362.8 104.6 L365.3 106.4 L367.7 108.1 L370.2 109.8 L372.6 111.6 L375.1 113.3 L377.5 115.0 L380.0 116.7 L382.5 118.3 L385.0 120.0 L387.5 121.7 L390.0 123.3 L392.5 124.9 L395.0 126.6 L397.6 128.2 L400.1 129.8 L402.7 131.4 L405.2 132.9 L407.8 134.5 L410.4 136.1 L412.9 137.6 L415.5 139.0 L418.2 140.5 L420.8 141.9 L423.5 143.3 L426.2 144.6 L428.9 145.9 L431.6 147.2 L434.3 148.5 L437.1 149.7 L439.8 150.9 L442.6 152.0 L445.4 153.2 L448.2 154.3 L451.0 155.3 L453.8 156.3 L456.6 157.3 L459.5 158.2 L462.3 159.1 L465.2 160.0 L468.1 160.8 L471.0 161.6 L473.9 162.2 L476.9 162.9 L479.8 163.5 L482.7 164.1 L485.7 164.6 L488.7 165.1 L491.6 165.6 L494.6 166.1 L497.5 166.5 L500.5 167.0 L503.5 167.4 L506.5 167.8 L509.4 168.2 L512.4 168.6 L515.4 169.0 L518.3 169.4 L521.3 169.8 L524.3 170.2 L527.3 170.6 L530.3 170.9 L533.2 171.2 L536.2 171.6 L539.2 171.9 L542.2 172.2 L545.2 172.6 L548.1 173.0 L551.1 173.5 L554.1 173.9 L557.0 174.4 L560.0 174.9 L562.9 175.4 L565.9 175.9 L568.9 176.5 L571.8 177.2 L574.6 178.1 L577.4 179.2 L580.1 180.5 L582.8 181.9 L585.3 183.6 L587.7 185.4 L589.9 187.4 L591.9 189.6 L593.7 192.0 L595.4 194.5 L597.1 197.1 L598.6 199.7 L600.1 202.3 L601.4 204.9 L602.7 207.6 L604.0 210.4 L605.3 213.1 L606.6 215.8 L608.0 218.4 L609.4 221.1 L610.9 223.8 L612.4 226.4 L614.1 229.0 L615.8 231.3 L617.7 233.5 L619.9 235.6 L622.4 237.5 L624.9 239.1 L627.5 240.5 L630.3 241.7 L633.1 242.7 L635.9 243.7 L638.7 244.8 L641.6 245.8 L644.4 246.9 L647.2 247.8 L650.1 248.8 L652.9 249.7 L655.8 250.5 L658.7 251.2 L661.6 251.9 L664.6 252.6 L667.5 253.3 L670.4 254.0 L673.3 254.9 L676.1 255.9 L679.0 256.9 L681.8 257.8 L684.7 258.6 L687.6 259.3 L690.5 259.8 L693.5 260.2 L696.5 260.6 L699.5 261.0 L702.5 261.4 L705.4 261.8 L708.4 262.3 L711.4 262.7 L714.3 263.1 L717.3 263.5 L720.3 264.0 L723.2 264.5 L726.2 265.1 L729.2 265.7 L732.1 266.4 L735.0 267.2 L737.9 268.0 L740.7 269.0 L743.4 270.1 L746.1 271.5 L748.7 273.1 L751.2 274.8 L753.6 276.6 L755.9 278.5 L758.1 280.5 L760.2 282.7 L762.2 284.9 L764.1 287.3 L765.9 289.7 L767.7 292.1 L769.3 294.6 L770.9 297.1 L772.5 299.7 L773.9 302.4 L775.3 305.1 L776.6 307.8 L777.8 310.5 L779.0 313.3 L780.0 316.1 L781.1 318.9 L782.1 321.7 L783.0 324.6 L783.9 327.5 L784.8 330.3 L785.7 333.2 L786.5 336.1 L787.3 339.0 L788.1 341.9 L788.8 344.8 L789.5 347.7 L790.3 350.6 L791.0 353.5 L791.7 356.4 L792.4 359.4 L793.1 362.3 L793.7 365.2 L794.4 368.1 L795.1 371.0 L795.7 374.0 L796.4 376.9 L797.0 379.8 L797.6 382.8 L798.2 385.7 L798.9 388.6 L799.5 391.6 L800.1 394.5 L800.7 397.5 L801.3 400.4 L801.9 403.3 L802.5 406.3 L803.1 409.2 L803.6 412.2 L804.2 415.1 L804.8 418.1 L805.4 421.0 L806.0 423.9 L806.6 426.9 L807.1 429.8 L807.7 432.8 L808.3 435.7 L808.9 438.7 L809.5 441.6 L810.0 444.5 L810.6 447.5 L811.2 450.4 L811.8 453.4 L812.4 456.3 L813.0 459.3 L813.6 462.2 L814.2 465.1 L814.8 468.1 L815.4 471.0 L816.0 473.9 L816.6 476.9 L817.2 479.8 L817.8 482.8 L818.4 485.7 L819.0 488.6 L819.7 491.6 L820.3 494.5 L820.9 497.4 L821.5 500.4 L822.1 503.3 L822.8 506.2 L823.4 509.2 L824.0 512.1 L824.7 515.0 L825.3 518.0 L825.9 520.9 L826.5 523.8 L827.2 526.8 L827.8 529.7 L828.4 532.6 L829.1 535.6 L829.7 538.5 L830.3 541.4 L831.0 544.4 L831.6 547.3 L832.3 550.2 L832.9 553.2 L833.5 556.1 L834.2 559.0 L834.8 562.0 L835.5 564.9 L836.1 567.8 L836.7 570.7 L837.4 573.7 L838.0 576.6 L838.7 579.5 L839.3 582.5 L839.9 585.4 L840.6 588.3 L841.2 591.3 L841.9 594.2 L842.5 597.1 L843.2 600.1 L843.8 603.0 L844.4 605.9 L845.1 608.8 L845.7 611.8 L846.3 614.7 L847.0 617.6 L847.6 620.6 L848.2 623.5 L848.8 626.5 L849.4 629.4 L850.0 632.3 L850.6 635.3 L851.3 638.2 L851.9 641.2 L852.5 644.1 L853.1 647.1 L853.7 650.0 L854.3 652.9 L854.9 655.9 L855.5 658.8 L856.1 661.8 L856.7 664.7 L857.3 667.7 L857.9 670.6 L858.5 673.6 L859.1 676.5 L859.7 679.4 L860.3 682.4 L861.0 685.3 L861.6 688.3 L862.2 691.2 L862.8 694.1 L863.5 697.1 L864.1 700.0 L864.8 702.9 L865.4 705.9 L866.1 708.8 L866.7 711.7 L867.4 714.6 L868.1 717.6 L868.7 720.5 L869.4 723.4 L870.1 726.3 L870.8 729.2 L871.5 732.1 L872.2 735.0 L873.0 737.9 L873.7 740.9 L874.4 743.8 L875.2 746.6 L876.0 749.5 L876.7 752.4 L877.5 755.3 L878.3 758.2 L879.1 761.1 L880.0 763.9 L880.9 766.8 L881.8 769.6 L882.8 772.5 L883.8 775.3 L884.7 778.2 L885.6 781.1 L886.5 783.9 L887.4 786.8 L888.3 789.7 L889.2 792.6 L890.1 795.4 L891.1 798.2 L892.1 801.1 L893.1 803.8 L894.3 806.6 L895.5 809.4 L896.7 812.1 L898.0 814.8 L899.4 817.5 L900.8 820.2 L902.2 822.8 L903.7 825.4 L905.3 827.9 L906.9 830.4 L908.7 832.9 L910.4 835.3 L912.3 837.7 L914.1 840.0 L916.1 842.4 L918.0 844.7 L920.0 847.0 L921.9 849.2 L923.9 851.5 L925.9 853.7 L928.0 855.9 L930.1 858.0 L932.2 860.1 L934.4 862.2 L936.6 864.3 L938.8 866.3 L941.0 868.3 L943.2 870.3 L945.5 872.3 L947.8 874.2 L950.1 876.1 L952.5 877.9 L954.9 879.8 L957.2 881.6 L959.6 883.5 L962.0 885.3 L964.4 887.1 L966.8 888.9 L969.2 890.8 L971.5 892.6 L973.9 894.5 L976.2 896.4 L978.6 898.2 L980.9 900.1 L983.3 902.0 L985.7 903.8 L988.1 905.7 L990.5 907.5 L992.9 909.3 L995.3 911.0 L997.7 912.8 L1000.2 914.4 L1002.7 916.1 L1005.2 917.6 L1007.8 919.2 L1010.4 920.7 L1013.0 922.2 L1015.6 923.6 L1018.2 925.0 L1020.9 926.4 L1023.6 927.8 L1026.3 929.2 L1029.0 930.5 L1031.7 931.8 L1034.4 933.2 L1037.1 934.5 L1039.8 935.8 L1042.5 937.0 L1045.2 938.3 L1047.9 939.5 L1050.7 940.8 L1053.4 942.0 L1056.2 943.2 L1058.9 944.4 L1061.7 945.5 L1064.5 946.7 L1067.2 947.9 L1070.0 949.0 L1072.8 950.2 L1075.5 951.4 L1078.3 952.5 L1081.0 953.7 L1083.8 954.9 L1086.6 956.0 L1089.3 957.2 L1092.1 958.4 L1094.9 959.5 L1097.6 960.7 L1100.4 961.8 L1103.2 963.0 L1106.0 964.1 L1108.7 965.3 L1111.5 966.4 L1114.3 967.5 L1117.1 968.5 L1120.0 969.5 L1122.9 970.5 L1125.7 971.5 L1128.6 972.4 L1131.5 973.4 L1134.4 974.4 L1137.2 975.4 L1140.0 976.5 L1142.8 977.6 L1145.5 978.8 L1148.1 980.1 L1150.7 981.5 L1153.1 983.3 L1155.4 985.3 L1157.8 987.0 L1160.4 988.3 L1163.0 989.6 L1165.7 990.8 L1168.4 991.9 L1171.2 993.0 L1174.0 994.0 L1176.8 995.0 L1179.6 996.0 L1182.5 996.9 L1185.4 997.8 L1188.4 998.6 L1191.3 999.4 L1194.3 1000.3 L1197.2 1001.1 L1200.2 1001.8 L1203.1 1002.6 L1206.1 1003.4 L1209.0 1004.1 L1211.9 1004.9 L1214.8 1005.6 L1217.7 1006.4 L1220.6 1007.2 L1223.5 1007.9 L1226.4 1008.7 L1229.3 1009.4 L1232.3 1010.1 L1235.2 1010.8 L1238.1 1011.5 L1241.0 1012.2 L1244.0 1012.9 L1246.9 1013.5 L1249.8 1014.2 L1252.8 1014.8 L1255.7 1015.5 L1258.6 1016.1 L1261.6 1016.7 L1264.5 1017.3 L1267.5 1017.8 L1270.4 1018.4 L1273.4 1018.9 L1276.3 1019.5 L1279.2 1020.0 L1282.2 1020.5 L1285.2 1021.0 L1288.1 1021.5 L1291.1 1022.0 L1294.0 1022.4 L1297.0 1022.9 L1300.0 1023.4 L1302.9 1023.8 L1305.9 1024.3 L1308.9 1024.7 L1311.9 1025.1 L1314.8 1025.5 L1317.8 1025.9 L1320.8 1026.3 L1323.8 1026.7 L1326.7 1027.1 L1329.7 1027.5 L1332.7 1027.8 L1335.7 1028.2 L1338.6 1028.5 L1341.6 1028.9 L1344.6 1029.2 L1347.6 1029.5 L1350.6 1029.8 L1353.6 1030.1 L1356.5 1030.4 L1359.5 1030.7 L1362.5 1031.0 L1365.5 1031.3 L1368.5 1031.6 L1371.5 1031.8 L1374.5 1032.1 L1377.5 1032.4 L1380.4 1032.7 L1383.4 1032.9 L1386.4 1033.2 L1389.4 1033.5 L1392.4 1033.8 L1395.4 1034.0 L1398.4 1034.3 L1401.4 1034.6 L1404.3 1034.8 L1407.3 1035.1 L1410.3 1035.4 L1413.3 1035.6 L1416.3 1035.9 L1419.3 1036.1 L1422.3 1036.4 L1425.3 1036.6 L1428.3 1036.9 L1431.2 1037.1 L1434.2 1037.4 L1437.2 1037.6 L1440.2 1037.9 L1443.2 1038.1 L1446.2 1038.4 L1449.2 1038.7 L1452.2 1038.9 L1455.2 1039.2 L1458.1 1039.4 L1461.1 1039.7 L1464.1 1040.0 L1467.1 1040.2 L1470.1 1040.5 L1473.1 1040.8 L1476.1 1041.1 L1479.1 1041.3 L1482.0 1041.6 L1485.0 1041.9 L1488.0 1042.1 L1491.0 1042.4 L1494.0 1042.7 L1497.0 1042.9 L1500.0 1043.2 L1503.0 1043.5 L1506.0 1043.7 L1508.9 1044.0 L1511.9 1044.3 L1514.9 1044.5 L1517.9 1044.8 L1520.9 1045.0 L1523.9 1045.3 L1526.9 1045.5 L1529.9 1045.8 L1532.9 1046.1 L1535.8 1046.3 L1538.8 1046.6 L1541.8 1046.8 L1544.8 1047.1 L1547.8 1047.3 L1550.8 1047.6 L1553.8 1047.8 L1556.8 1048.1 L1559.8 1048.4 L1562.7 1048.6 L1565.7 1048.9 L1568.7 1049.1 L1571.7 1049.4 L1574.7 1049.7 L1577.7 1049.9 L1580.7 1050.2 L1583.7 1050.5 L1586.7 1050.7 L1589.6 1051.0 L1592.6 1051.3 L1595.6 1051.5 L1598.6 1051.8 L1601.6 1052.1 L1604.6 1052.3 L1607.6 1052.6 L1610.6 1052.9 L1613.5 1053.2 L1616.5 1053.4 L1619.5 1053.7 L1622.5 1054.0 L1625.5 1054.2 L1628.5 1054.5 L1631.5 1054.8 L1634.5 1055.0 L1637.4 1055.3 L1640.4 1055.6 L1643.4 1055.8 L1646.4 1056.1 L1649.4 1056.3 L1652.4 1056.6 L1655.4 1056.9 L1658.4 1057.1 L1661.4 1057.4 L1664.3 1057.7 L1667.3 1058.0 L1670.3 1058.2 L1673.3 1058.5 L1676.3 1058.8 L1679.3 1059.0 L1682.3 1059.3 L1685.3 1059.6 L1688.2 1059.8 L1691.2 1060.1 L1694.2 1060.4 L1697.2 1060.6 L1700.2 1060.9 L1703.2 1061.2 L1706.2 1061.4 L1709.2 1061.7 L1712.2 1062.0 L1715.1 1062.2 L1718.1 1062.5 L1721.1 1062.8 L1724.1 1063.1 L1727.1 1063.4 L1730.1 1063.7 L1733.1 1064.0 L1736.0 1064.3 L1739.0 1064.6 L1742.0 1064.9 L1745.0 1065.3 L1748.0 1065.6 L1750.9 1066.0 L1753.9 1066.3 L1756.9 1066.7 L1759.9 1067.1 L1762.8 1067.5 L1765.8 1067.9 L1768.8 1068.3 L1771.8 1068.7 L1774.7 1069.1 L1777.7 1069.5 L1780.7 1069.9 L1783.7 1070.3 L1786.6 1070.7 L1789.6 1071.1 L1792.6 1071.5 L1795.6 1071.9 L1798.5 1072.3 L1801.5 1072.6 L1804.5 1073.0 L1807.5 1073.4 L1810.4 1073.7 L1813.4 1074.1 L1816.4 1074.5 L1819.4 1074.8 L1822.4 1075.2 L1825.3 1075.6 L1828.3 1075.9 L1831.3 1076.3 L1834.3 1076.7 L1837.2 1077.0 L1840.2 1077.4 L1843.2 1077.8 L1846.2 1078.2 L1849.1 1078.6 L1852.1 1078.9 L1855.1 1079.3 L1858.1 1079.8 L1861.0 1080.2 L1864.0 1080.6 L1867.0 1081.0 L1869.9 1081.4 L1872.9 1081.9 L1875.9 1082.3 L1878.8 1082.7 L1881.8 1083.2 L1884.8 1083.6 L1887.8 1084.1 L1890.7 1084.5 L1893.7 1085.0 L1896.6 1085.4 L1899.6 1085.9 L1902.6 1086.3 L1905.5 1086.8 L1908.5 1087.3 L1911.5 1087.7 L1914.4 1088.2 L1917.4 1088.7 L1920.3 1089.2 L1923.3 1089.7 L1926.3 1090.2 L1929.2 1090.7 L1932.2 1091.2 L1935.1 1091.7 L1938.1 1092.2 L1941.1 1092.7 L1944.0 1093.2 L1947.0 1093.7 L1949.9 1094.2 L1952.9 1094.7 L1955.8 1095.3 L1958.8 1095.8 L1961.7 1096.3 L1964.7 1096.9 L1967.6 1097.4 L1970.6 1098.0 L1973.5 1098.5 L1976.5 1099.1 L1979.4 1099.6 L1982.4 1100.2 L1985.3 1100.7 L1988.3 1101.3 L1991.2 1101.8 L1994.2 1102.4 L1997.1 1103.0 L2000.1 1103.6 L2003.0 1104.1 L2006.0 1104.7 L2008.9 1105.3 L2011.8 1105.9 L2014.8 1106.5 L2017.7 1107.2 L2020.6 1107.8 L2023.6 1108.4 L2026.5 1109.1 L2029.4 1109.8 L2032.3 1110.4 L2035.3 1111.1 L2038.2 1111.8 L2041.1 1112.5 L2044.0 1113.3 L2046.9 1114.0 L2049.8 1114.8 L2052.7 1115.5 L2055.6 1116.3 L2058.5 1117.1 L2061.4 1117.9 L2064.3 1118.7 L2067.2 1119.5 L2070.1 1120.4 L2073.0 1121.2 L2075.8 1122.0 L2078.7 1122.9 L2081.6 1123.8 L2084.5 1124.6 L2087.3 1125.5 L2090.2 1126.4 L2093.0 1127.3 L2095.9 1128.2 L2098.8 1129.1 L2101.6 1130.0 L2104.5 1131.0 L2107.3 1131.9 L2110.2 1132.9 L2113.0 1133.8 L2115.8 1134.8 L2118.7 1135.8 L2121.5 1136.8 L2124.3 1137.8 L2127.2 1138.8 L2130.0 1139.9 L2132.8 1140.9 L2135.6 1142.0 L2138.4 1143.1 L2141.2 1144.1 L2144.0 1145.2 L2146.8 1146.3 L2149.5 1147.5 L2152.3 1148.6 L2155.1 1149.8 L2157.8 1151.0 L2160.5 1152.3 L2163.3 1153.5 L2166.0 1154.8 L2168.7 1156.1 L2171.4 1157.3 L2174.2 1158.6 L2176.9 1159.8 L2179.6 1161.0 L2182.4 1162.3 L2185.1 1163.5 L2187.8 1164.7 L2190.6 1166.0 L2193.3 1167.2 L2196.0 1168.4 L2198.8 1169.7 L2201.5 1170.9 L2204.2 1172.1 L2207.0 1173.4 L2209.7 1174.6 L2212.4 1175.9 L2215.2 1177.1 L2217.9 1178.4 L2220.6 1179.6 L2223.3 1180.9 L2226.1 1182.1 L2228.8 1183.3 L2231.6 1184.5 L2234.3 1185.7 L2237.1 1186.9 L2239.9 1188.0 L2242.6 1189.2 L2245.4 1190.3 L2248.2 1191.5 L2251.0 1192.6 L2253.8 1193.7 L2256.6 1194.8 L2259.4 1195.8 L2262.2 1196.8 L2265.0 1197.8 L2267.9 1198.8 L2270.7 1199.7 L2273.6 1200.7 L2276.4 1201.6 L2279.3 1202.5 L2282.2 1203.3 L2285.1 1204.1 L2288.0 1204.9 L2290.9 1205.6 L2293.8 1206.2 L2296.7 1206.8 L2299.7 1207.4 L2302.6 1207.9 L2305.6 1208.5 L2308.6 1209.0 L2311.5 1209.5 L2314.5 1209.9 L2317.5 1210.3 L2320.4 1210.7 L2323.4 1211.1 L2326.4 1211.4 L2329.4 1211.8 L2332.4 1212.1 L2335.3 1212.4 L2338.3 1212.6 L2341.3 1212.9 L2344.3 1213.1" fill="none" stroke="#808080" stroke-width="13" stroke-linecap="round" stroke-linejoin="round"/>
<line x1="1803.5" y1="157.4" x2="1961.6" y2="157.4" stroke="#000000" stroke-width="13.1" stroke-linecap="round"/>
<line x1="1803.5" y1="296.6" x2="1961.6" y2="296.6" stroke="#c00000" stroke-width="13.1" stroke-linecap="round"/>
<line x1="1803.5" y1="436.4" x2="1961.6" y2="436.4" stroke="#808080" stroke-width="13.1" stroke-linecap="round"/>
<g id="labels">
<text transform="translate(0 78.30) scale(0.95 1)" x="133.47 173.11 211.05" y="0" font-size="76" xml:space="preserve">100</text>
<text transform="translate(0 224.30) scale(0.95 1)" x="173.44 211.05" y="0" font-size="76" xml:space="preserve">90</text>
<text transform="translate(0 370.20) scale(0.95 1)" x="173.05 211.05" y="0" font-size="76" xml:space="preserve">80</text>
<text transform="translate(0 515.20) scale(0.95 1)" x="171.06 211.05" y="0" font-size="76" xml:space="preserve">70</text>
<text transform="translate(0 661.20) scale(0.95 1)" x="172.60 211.05" y="0" font-size="76" xml:space="preserve">60</text>
<text transform="translate(0 807.30) scale(0.95 1)" x="171.86 211.05" y="0" font-size="76" xml:space="preserve">50</text>
<text transform="translate(0 952.30) scale(0.95 1)" x="172.48 211.05" y="0" font-size="76" xml:space="preserve">40</text>
<text transform="translate(0 1098.20) scale(0.95 1)" x="171.09 211.05" y="0" font-size="76" xml:space="preserve">30</text>
<text transform="translate(0 1243.20) scale(0.95 1)" x="173.06 211.05" y="0" font-size="76" xml:space="preserve">20</text>
<text transform="translate(0 1389.30) scale(0.95 1)" x="172.52 211.05" y="0" font-size="76" xml:space="preserve">10</text>
<text transform="translate(0 1529.30) scale(0.95 1)" x="211.05" y="0" font-size="76" xml:space="preserve">0</text>
<text transform="translate(0 1620.00) scale(0.95 1)" x="276.16 313.96" y="0" font-size="76" xml:space="preserve">25</text>
<text transform="translate(0 1620.00) scale(0.95 1)" x="478.94 518.27 555.01" y="0" font-size="76" xml:space="preserve">125</text>
<text transform="translate(0 1620.00) scale(0.95 1)" x="701.43 740.37 777.12" y="0" font-size="76" xml:space="preserve">225</text>
<text transform="translate(0 1620.00) scale(0.95 1)" x="921.72 962.43 999.22" y="0" font-size="76" xml:space="preserve">325</text>
<text transform="translate(0 1620.00) scale(0.95 1)" x="1146.11 1184.58 1221.22" y="0" font-size="76" xml:space="preserve">425</text>
<text transform="translate(0 1620.00) scale(0.95 1)" x="1367.64 1406.69 1443.43" y="0" font-size="76" xml:space="preserve">525</text>
<text transform="translate(0 1620.00) scale(0.95 1)" x="1590.50 1628.80 1666.59" y="0" font-size="76" xml:space="preserve">625</text>
<text transform="translate(0 1620.00) scale(0.95 1)" x="1811.17 1850.85 1888.59" y="0" font-size="76" xml:space="preserve">725</text>
<text transform="translate(0 1620.00) scale(0.95 1)" x="2035.26 2073.01 2110.80" y="0" font-size="76" xml:space="preserve">825</text>
<text transform="translate(0 1620.00) scale(0.95 1)" x="2257.65 2295.11 2332.86" y="0" font-size="76" xml:space="preserve">925</text>
<text transform="translate(0 182.20) scale(1 1)" x="1974.73 2012.14" y="0" font-size="76" xml:space="preserve">SG</text>
<text transform="translate(0 321.20) scale(1 1)" x="1975.59 2023.78 2096.68 2132.66" y="0" font-size="76" xml:space="preserve">CMSA</text>
<text transform="translate(0 461.30) scale(1 1)" x="1975.59 2023.78 2096.68 2130.97" y="0" font-size="76" xml:space="preserve">CMSB</text>
<text transform="translate(0 1729.20) scale(0.96 1)" x="1059.19 1102.70 1140.61 1204.49 1242.28 1281.41 1317.96 1354.96 1381.24 1426.41 1464.15 1499.66 1520.59 1547.23 1567.23 1585.66 1620.02 1675.59" y="0" font-size="80" font-weight="bold" xml:space="preserve">Temperature (  °C)</text>
<text transform="translate(83.10 0) rotate(-90) scale(1 1)" x="-983.09 -908.14 -872.76 -848.56 -808.04 -764.84 -738.20 -721.44 -696.25 -606.75" y="0" font-size="80" font-weight="bold" xml:space="preserve">Weight (%)</text>
</g>
</svg></body></html>
